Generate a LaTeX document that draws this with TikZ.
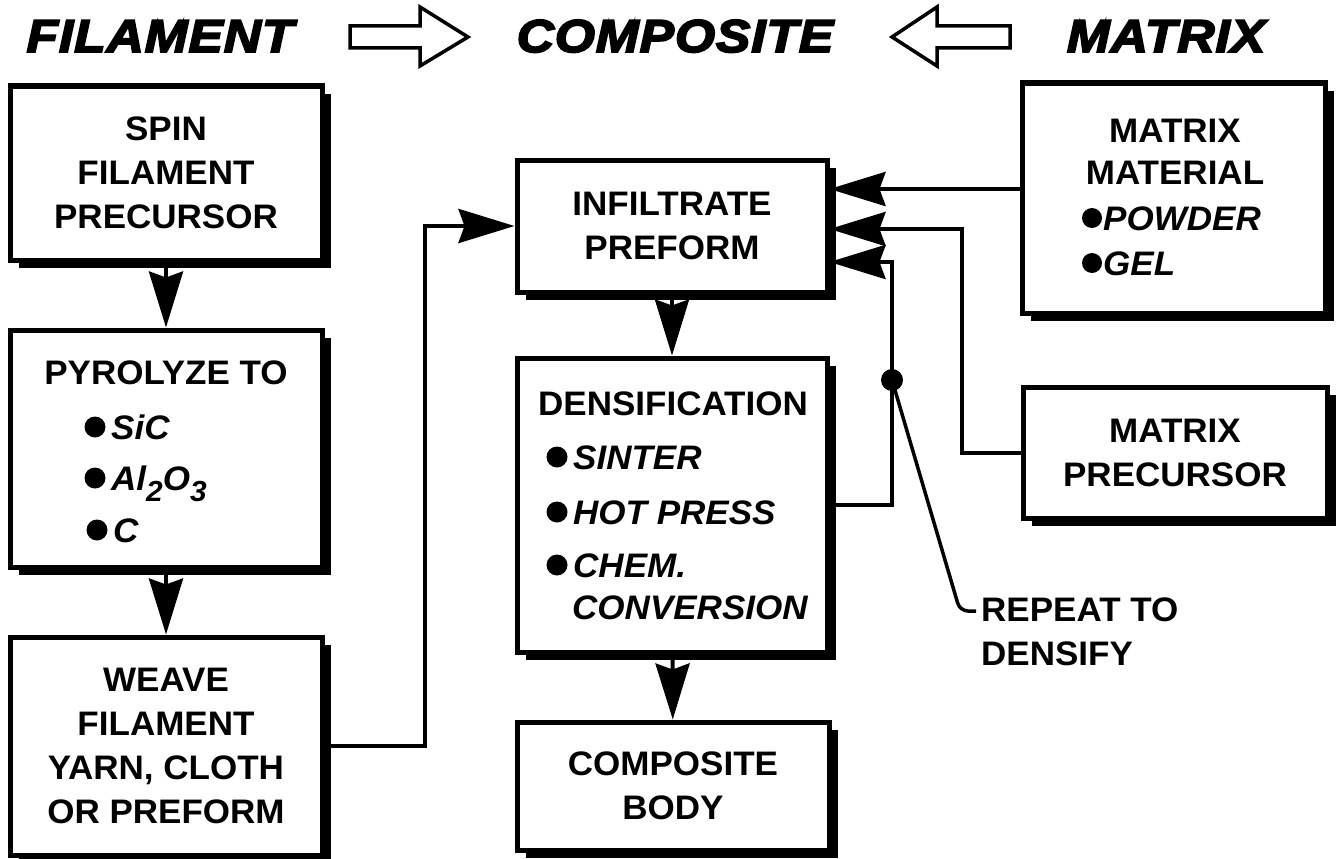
\documentclass[tikz,border=0pt]{standalone}
\usepackage{fontspec}
\setmainfont{Liberation Sans}
\newfontfamily\boxfont{Liberation Sans}[FakeStretch=1.03]
\newfontfamily\headfont{Liberation Sans}[FakeStretch=1.12,FakeBold=4,LetterSpace=2]
\usetikzlibrary{arrows.meta,shadows}
\newcommand\subx[1]{\raisebox{-11pt}{\fontsize{29}{29}\selectfont #1}}

\begin{document}
\begin{tikzpicture}[x=1pt,y=-1pt,
  box/.style={draw, line width=5pt, fill=white, rectangle, inner sep=0pt,
     general shadow={fill=black, shadow xshift=9pt, shadow yshift=-8pt},
     font=\boxfont\bfseries\fontsize{34}{44}\selectfont, align=center},
  txt/.style={font=\boxfont\bfseries\fontsize{34}{44}\selectfont, inner sep=0pt},
  itxt/.style={font=\boxfont\bfseries\itshape\fontsize{34}{44}\selectfont, inner sep=0pt, anchor=base west},
  head/.style={font=\headfont\bfseries\itshape\fontsize{46}{46}\selectfont, inner sep=0pt, anchor=base},
  arr/.style={line width=4pt, -{Stealth[length=56pt,width=34pt,inset=6pt]}},
  conn/.style={line width=3.5pt},
  hollow/.style={line width=3.5pt, line join=miter},
]
\path[use as bounding box, fill=white] (0,0) rectangle (1336,859);

% headers
\node[head] (hfil) at (160,52) {FILAMENT};
\node[head] (hcomp) at (675,52) {COMPOSITE};
\node[head] (hmat) at (1166,52) {MATRIX};
\draw[hollow] (350,26) -- (420,26) -- (420,7) -- (468,37) -- (420,66) -- (420,48) -- (350,48) -- cycle;
\draw[hollow] (1010,26) -- (937,26) -- (937,7) -- (892,37) -- (937,66) -- (937,48) -- (1010,48) -- cycle;

% left column
\node[box, minimum width=312pt, minimum height=174pt] (spin) at (166,173) {SPIN\\FILAMENT\\PRECURSOR};
\node[box, minimum width=312pt, minimum height=237pt] (pyro) at (166,448.5) {};
\node[box, minimum width=312pt, minimum height=218pt] (weave) at (166,746) {WEAVE\\FILAMENT\\YARN, CLOTH\\OR PREFORM};

\node[txt, anchor=base] (pyt) at (166,384) {PYROLYZE TO};
\fill (95,427) circle (10.5pt);
\node[itxt] (sic) at (111,439) {SiC};
\fill (95,478) circle (10.5pt);
\node[itxt] (alo) at (111,490) {Al\subx{2}O\subx{3}};
\fill (97,530) circle (10.5pt);
\node[itxt] (cc) at (113,542) {C};

% middle column
\node[box, minimum width=310pt, minimum height=132pt] (inf) at (672,226) {INFILTRATE\\PREFORM};
\node[box, minimum width=310pt, minimum height=294pt] (dens) at (672,505) {};
\node[box, minimum width=312pt, minimum height=128pt] (body) at (673,786) {COMPOSITE\\BODY};

\node[txt, anchor=base] (dt) at (673,415) {DENSIFICATION};
\fill (557,457) circle (10.5pt);
\node[itxt] (sint) at (573,469) {SINTER};
\fill (557,512) circle (10.5pt);
\node[itxt] (hp) at (573,524) {HOT PRESS};
\fill (557,565) circle (10.5pt);
\node[itxt] (chem) at (573,577) {CHEM.};
\node[itxt] (conv) at (572,619) {CONVERSION};

% right column
\node[box, minimum width=303pt, minimum height=230pt] (mat) at (1173.5,198) {};
\node[txt, anchor=base] (mt1) at (1175,142) {MATRIX};
\node[txt, anchor=base] (mt2) at (1175,184) {MATERIAL};
\fill (1092,218) circle (10pt);
\node[itxt] (pow) at (1103,230) {POWDER};
\fill (1092,263) circle (10pt);
\node[itxt] (gel) at (1103,275) {GEL};

\node[box, minimum width=304pt, minimum height=131pt] (prec) at (1175,452.5) {MATRIX\\PRECURSOR};

\node[txt, anchor=west, align=left] (rep) at (981,632) {REPEAT TO\\DENSIFY};

% connectors
\draw[arr] (spin) -- (pyro);
\draw[arr] (pyro) -- (weave);
\draw[arr] (weave.east) -- ++(100,0) |- (inf.west);
\draw[arr] (inf) -- (dens);
\draw[arr] (dens) -- (body);

\coordinate (yA) at (0,189);
\draw[arr] (mat.west |- yA) -- (inf.east |- yA);
\coordinate (pbend) at (962,229);
\draw[arr] (prec.west) -| (pbend) -- (inf.east |- pbend);
\coordinate (dbend) at (892,262);
\draw[arr] (dens.east) -| (dbend) -- (inf.east |- dbend);

\coordinate (dotc) at (892,380);
\fill (dotc) circle (11pt);
\coordinate (lk) at (960,611);
\draw[conn, rounded corners=8pt] (dotc) -- (lk) -- ([xshift=-5pt]rep.west |- lk);
\end{tikzpicture}
\end{document}
